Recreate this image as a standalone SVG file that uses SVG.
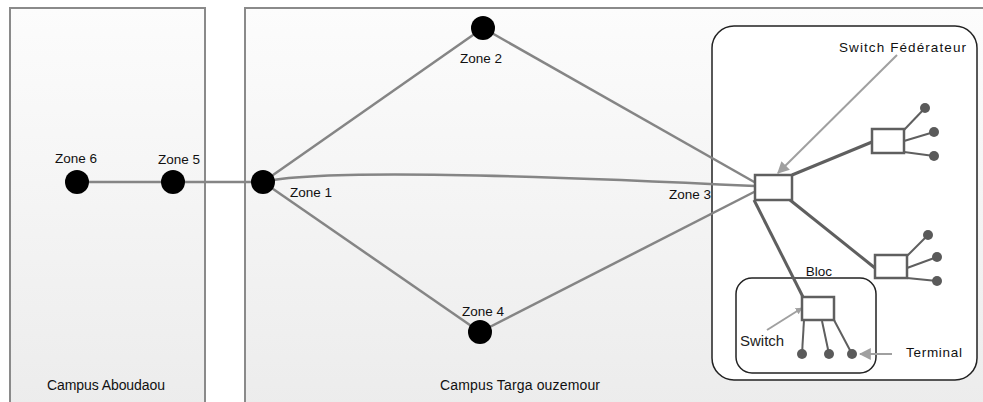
<svg xmlns="http://www.w3.org/2000/svg" width="983" height="402" viewBox="0 0 983 402">
  <defs>
    <linearGradient id="panelFill" x1="0" y1="0" x2="0" y2="1">
      <stop offset="0" stop-color="#fcfcfc"/>
      <stop offset="1" stop-color="#ececec"/>
    </linearGradient>
    <marker id="arrowGray" viewBox="0 0 10 10" refX="9" refY="5" markerWidth="7" markerHeight="7" orient="auto" markerUnits="userSpaceOnUse">
      <path d="M0,0 L10,5 L0,10 z" fill="#a0a0a0"/>
    </marker>
    <marker id="arrowGrayBig" viewBox="0 0 10 10" refX="9" refY="5" markerWidth="12" markerHeight="12" orient="auto" markerUnits="userSpaceOnUse">
      <path d="M0,0 L10,5 L0,10 z" fill="#a0a0a0"/>
    </marker>
  </defs>
  <style>
    .panel { fill: url(#panelFill); stroke: #8a8a8a; stroke-width: 2; }
    .zone { fill: #000; }
    .link { fill: none; stroke: #858585; stroke-width: 2.5; }
    .tie { fill: none; stroke: #5f5f5f; stroke-width: 3; }
    .leaf { fill: none; stroke: #5f5f5f; stroke-width: 2; }
    .sw { fill: #fff; stroke: #5f5f5f; stroke-width: 2.5; }
    .term { fill: #5a5a5a; }
    .pointer { fill: none; stroke: #a0a0a0; stroke-width: 2; }
    .lbl { font-family: "Liberation Sans", Arial, sans-serif; font-size: 13.5px; fill: #111; }
    .big { font-size: 14px; }
  </style>

  <rect width="983" height="402" fill="#ffffff"/>

  <!-- campus areas -->
  <g id="campus-aboudaou">
    <rect class="panel" x="10" y="8" width="195" height="400"/>
    <text class="lbl big" x="106" y="390" text-anchor="middle" textLength="118" lengthAdjust="spacing">Campus Aboudaou</text>
  </g>
  <g id="campus-targa">
    <rect class="panel" x="245" y="8" width="745" height="400"/>
    <text class="lbl big" x="520" y="390" text-anchor="middle" textLength="160" lengthAdjust="spacing">Campus Targa ouzemour</text>
  </g>

  <!-- zone 3 site -->
  <g id="zone3-site">
    <rect x="712" y="26" width="265" height="354" rx="22" fill="#ffffff" stroke="#222" stroke-width="1.5"/>
  </g>
  <g id="bloc">
    <rect x="736" y="278" width="140" height="95" rx="16" fill="#ffffff" stroke="#222" stroke-width="1.5"/>
    <text class="lbl" x="819" y="276" text-anchor="middle">Bloc</text>
  </g>

  <!-- connectors -->
  <g id="connectors">
    <line class="link" x1="77" y1="182" x2="173" y2="182"/>
    <line class="link" x1="173" y1="182" x2="263" y2="182"/>
    <line class="link" x1="263" y1="182" x2="483" y2="28"/>
    <line class="link" x1="263" y1="182" x2="480" y2="332"/>
    <path class="link" d="M263,182 Q330,165 755,186"/>
    <line class="link" x1="483" y1="28" x2="756" y2="183"/>
    <line class="link" x1="480" y1="332" x2="756" y2="191"/>
    <line class="tie" x1="792" y1="175" x2="872" y2="142"/>
    <line class="tie" x1="790" y1="200" x2="875" y2="268"/>
    <line class="tie" x1="754" y1="200" x2="803" y2="297"/>
    <line class="leaf" x1="904" y1="130" x2="925" y2="108"/>
    <line class="leaf" x1="904" y1="141" x2="934" y2="132"/>
    <line class="leaf" x1="904" y1="152" x2="934" y2="156"/>
    <line class="leaf" x1="907" y1="256" x2="928" y2="235"/>
    <line class="leaf" x1="907" y1="268" x2="937" y2="257"/>
    <line class="leaf" x1="907" y1="278" x2="937" y2="281"/>
    <line class="leaf" x1="804" y1="320" x2="802" y2="354"/>
    <line class="leaf" x1="822" y1="321" x2="829" y2="354"/>
    <line class="leaf" x1="834" y1="320" x2="852" y2="354"/>
    <line class="pointer" x1="897" y1="55" x2="778" y2="173" marker-end="url(#arrowGrayBig)"/>
    <line class="pointer" x1="767" y1="330" x2="802" y2="308" marker-end="url(#arrowGray)"/>
    <line class="pointer" x1="892" y1="354" x2="860" y2="354" marker-end="url(#arrowGrayBig)"/>
  </g>

  <!-- zones -->
  <g id="zone6">
    <circle class="zone" cx="77" cy="182" r="12"/>
    <text class="lbl" x="76" y="163" text-anchor="middle">Zone 6</text>
  </g>
  <g id="zone5">
    <circle class="zone" cx="173" cy="182" r="12"/>
    <text class="lbl" x="179" y="164" text-anchor="middle">Zone 5</text>
  </g>
  <g id="zone1">
    <circle class="zone" cx="263" cy="182" r="12"/>
    <text class="lbl" x="311" y="197" text-anchor="middle">Zone 1</text>
  </g>
  <g id="zone2">
    <circle class="zone" cx="483" cy="28" r="12"/>
    <text class="lbl" x="481" y="63" text-anchor="middle">Zone 2</text>
  </g>
  <g id="zone4">
    <circle class="zone" cx="480" cy="332" r="12"/>
    <text class="lbl" x="483" y="316" text-anchor="middle">Zone 4</text>
  </g>
  <g id="zone3">
    <text class="lbl" x="711" y="199" text-anchor="end">Zone 3</text>
  </g>

  <!-- switches -->
  <g id="switch-federateur">
    <rect class="sw" x="755" y="175" width="37" height="25"/>
    <text class="lbl" x="839" y="52" textLength="127" lengthAdjust="spacing">Switch Fédérateur</text>
  </g>
  <g id="switch-upper">
    <rect class="sw" x="872" y="129" width="32" height="24"/>
    <circle class="term" cx="925" cy="108" r="5"/>
    <circle class="term" cx="934" cy="132" r="5"/>
    <circle class="term" cx="934" cy="156" r="5"/>
  </g>
  <g id="switch-lower">
    <rect class="sw" x="875" y="255" width="32" height="23"/>
    <circle class="term" cx="928" cy="235" r="5"/>
    <circle class="term" cx="937" cy="257" r="5"/>
    <circle class="term" cx="937" cy="281" r="5"/>
  </g>
  <g id="switch-bloc">
    <rect class="sw" x="802" y="297" width="32" height="23"/>
    <circle class="term" cx="802" cy="354" r="5"/>
    <circle class="term" cx="829" cy="354" r="5"/>
    <circle class="term" cx="852" cy="354" r="5"/>
    <text x="740" y="346" font-family="'Liberation Sans', Arial, sans-serif" font-size="15" fill="#222">Switch</text>
  </g>
  <g id="terminal-label">
    <text class="lbl" x="906" y="357" textLength="56" lengthAdjust="spacing">Terminal</text>
  </g>
</svg>
